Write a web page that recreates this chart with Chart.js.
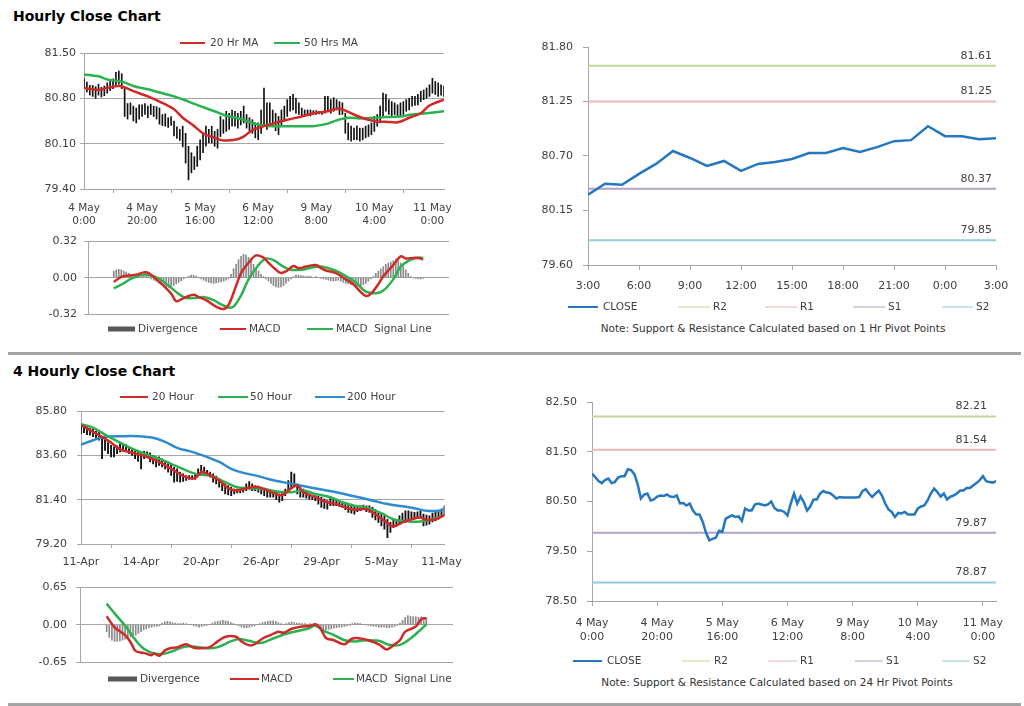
<!DOCTYPE html>
<html><head><meta charset="utf-8">
<script src="https://cdn.jsdelivr.net/npm/chart.js@4.4.0/dist/chart.umd.min.js"></script>
<style>
body{margin:0;background:#fff;width:1024px;height:706px;position:relative;overflow:hidden;font-family:"DejaVu Sans";}
canvas{position:absolute;}
.title{position:absolute;left:13px;font:bold 14px/16px "DejaVu Sans";color:#000;white-space:nowrap;}
.sep{position:absolute;left:8px;width:1013px;height:3px;background:#a3a3a3;}
.note{position:absolute;font:10.5px/14px "DejaVu Sans";color:#333;white-space:nowrap;transform:translateX(-50%);}
</style></head><body>
<div class="title" style="top:8px">Hourly Close Chart</div>
<div class="sep" style="top:352px"></div>
<div class="title" style="top:363px">4 Hourly Close Chart</div>
<div class="sep" style="top:703px"></div>
<div class="note" style="left:773px;top:321px">Note: Support &amp; Resistance Calculated based on 1 Hr Pivot Points</div>
<div class="note" style="left:777px;top:675px">Note: Support &amp; Resistance Calculated based on 24 Hr Pivot Points</div>
<canvas id="cA" width="470" height="200" style="left:0;top:30px"></canvas>
<canvas id="cB" width="470" height="122" style="left:0;top:228px"></canvas>
<canvas id="cC" width="504" height="320" style="left:520px;top:30px"></canvas>
<canvas id="cD" width="470" height="190" style="left:0;top:380px"></canvas>
<canvas id="cE" width="470" height="130" style="left:0;top:572px"></canvas>
<canvas id="cF" width="504" height="320" style="left:520px;top:380px"></canvas>
<script>
// ===== DATA =====
// Hourly (4 May 0:00 .. ~11 May 4:00), 125 hourly bars
const hourlyTickPos = [0,20,40,60,80,100,120];
const hourlyTickLabels = [['4 May','0:00'],['4 May','20:00'],['5 May','16:00'],['6 May','12:00'],['9 May','8:00'],['10 May','4:00'],['11 May','0:00']];
const hourlyHigh = [
81.10,81.05,81.00,81.00,80.98,81.02,80.97,80.99,81.04,81.08,
81.10,81.20,81.22,81.18,80.96,80.72,80.73,80.68,80.65,80.70,
80.70,80.72,80.68,80.71,80.68,80.67,80.65,80.55,80.56,80.50,
80.52,80.45,80.36,80.32,80.37,80.26,80.06,79.96,79.90,80.06,
80.16,80.26,80.37,80.32,80.37,80.29,80.32,80.52,80.47,80.60,
80.57,80.62,80.60,80.57,80.60,80.68,80.55,80.50,80.47,80.42,
80.42,80.62,80.96,80.73,80.73,80.62,80.57,80.52,80.62,80.68,
80.78,80.83,80.86,80.80,80.73,80.65,80.62,80.62,80.62,80.61,
80.61,80.60,80.60,80.83,80.83,80.78,80.81,80.78,80.75,80.73,
80.57,80.42,80.37,80.34,80.37,80.34,80.34,80.37,80.39,80.42,
80.52,80.55,80.68,80.88,80.86,80.78,80.75,80.73,80.70,80.73,
80.75,80.78,80.80,80.83,80.83,80.86,80.91,80.93,80.96,81.01,
81.11,81.06,81.04,81.01,80.99];
const hourlyLow = [
80.95,80.90,80.85,80.83,80.80,80.85,80.82,80.84,80.88,80.92,
80.95,81.00,81.02,80.95,80.52,80.48,80.55,80.45,80.42,80.48,
80.52,80.55,80.50,80.55,80.52,80.48,80.40,80.38,80.37,80.35,
80.38,80.22,80.18,80.15,80.05,79.80,79.54,79.65,79.70,79.75,
79.85,79.96,80.06,80.11,80.11,80.06,80.03,80.21,80.26,80.29,
80.32,80.37,80.37,80.34,80.39,80.42,80.34,80.29,80.26,80.19,
80.16,80.26,80.37,80.32,80.42,80.37,80.30,80.24,80.37,80.47,
80.52,80.60,80.62,80.57,80.55,80.52,80.52,80.53,80.53,80.55,
80.55,80.56,80.55,80.57,80.62,80.57,80.60,80.62,80.55,80.55,
80.26,80.16,80.14,80.16,80.16,80.14,80.16,80.19,80.21,80.24,
80.29,80.37,80.42,80.50,80.60,80.55,80.52,80.55,80.52,80.52,
80.55,80.60,80.62,80.68,80.69,80.70,80.75,80.78,80.80,80.83,
80.88,80.86,80.83,80.85,80.83];
const hourlyClose = [
81.06,80.99,80.91,80.87,80.93,80.96,80.87,80.89,80.98,81.01,
81.01,81.15,81.13,81.05,80.85,80.56,80.64,80.66,80.52,80.54,
80.60,80.62,80.61,80.64,80.60,80.59,80.62,80.46,80.47,80.42,
80.46,80.32,80.24,80.24,80.09,79.87,79.72,79.75,79.77,79.91,
79.89,80.15,80.19,80.22,80.19,80.20,80.11,80.36,80.32,80.32,
80.44,80.46,80.44,80.42,80.44,80.50,80.37,80.32,80.32,80.29,
80.22,80.46,80.66,80.46,80.60,80.49,80.32,80.40,80.54,80.54,
80.66,80.71,80.68,80.67,80.62,80.56,80.59,80.58,80.58,80.58,
80.58,80.58,80.59,80.71,80.75,80.66,80.59,80.66,80.72,80.62,
80.46,80.34,80.29,80.19,80.27,80.26,80.29,80.24,80.24,80.24,
80.36,80.40,80.42,80.52,80.66,80.76,80.69,80.60,80.66,80.54,
80.60,80.62,80.66,80.72,80.72,80.77,80.77,80.82,80.87,80.93,
81.01,80.91,80.89,80.88,80.91];
const ma20HrX = [0,5,8,12,14,17,22,26,31,34,38,41,45,48,52,55,58,62,65,70,75,79,84,87,89,93,97,101,104,108,112,116,119,124];
const ma20HrY = [80.96,80.93,80.96,80.99,80.97,80.91,80.83,80.75,80.63,80.50,80.37,80.26,80.19,80.15,80.16,80.21,80.31,80.37,80.41,80.47,80.52,80.57,80.60,80.64,80.63,80.55,80.48,80.44,80.44,80.43,80.50,80.57,80.69,80.78];
const ma50HrX = [0,5,8,13,17,22,26,31,36,40,45,49,54,58,62,65,70,75,79,84,87,91,95,100,104,109,113,118,124];
const ma50HrY = [81.17,81.14,81.09,81.06,80.99,80.94,80.89,80.83,80.75,80.68,80.60,80.53,80.48,80.42,80.38,80.37,80.37,80.37,80.37,80.41,80.46,80.50,80.49,80.50,80.51,80.52,80.55,80.57,80.60];
const macdHrX = [0,3,6,9,12,14,17,20,23,25,27,29,32,34,37,41,44,46,49,51,54,57,60,62,65,67,69,72,74,77,81,83,85,89,92,96,99,101,103,106,108,112,115,117,121,124];
const macdHrY = [-0.037,0.008,0.02,0.028,0.048,0.042,-0.014,-0.071,-0.14,-0.207,-0.19,-0.17,-0.15,-0.17,-0.198,-0.255,-0.275,-0.24,-0.071,0.042,0.133,0.198,0.178,0.133,0.071,0.042,0.057,0.105,0.085,0.099,0.113,0.085,0.065,0.042,0.0,-0.057,-0.127,-0.161,-0.142,-0.057,0.014,0.113,0.19,0.17,0.178,0.164];
const signalHrX = [0,4,7,12,16,19,22,26,29,33,36,40,43,46,48,51,54,58,61,64,68,71,75,80,83,88,92,97,101,105,108,112,115,119,122,124];
const signalHrY = [-0.093,-0.048,-0.008,0.028,0.014,-0.02,-0.071,-0.142,-0.178,-0.178,-0.17,-0.198,-0.235,-0.263,-0.255,-0.156,-0.014,0.113,0.17,0.156,0.099,0.071,0.071,0.093,0.099,0.071,0.028,-0.042,-0.122,-0.136,-0.113,-0.014,0.099,0.161,0.178,0.175];
const divergenceHr = [
0.06,0.07,0.075,0.07,0.06,0.05,0.04,0.03,0.02,0.015,
0.01,0.01,0.02,0.02,0.01,
-0.01,-0.02,-0.03,-0.045,-0.06,-0.07,-0.08,-0.085,-0.08,-0.07,-0.055,-0.04,-0.025,
-0.01,0.005,0.015,0.025,0.025,0.015,
0.0,-0.01,-0.02,-0.03,-0.04,-0.045,-0.05,-0.045,-0.04,-0.035,-0.03,-0.02,-0.01,
0.03,0.08,0.12,0.16,0.19,0.21,0.2,0.18,0.15,0.12,0.09,0.06,0.03,0.01,
-0.01,-0.03,-0.05,-0.07,-0.08,-0.085,-0.08,-0.07,-0.05,-0.03,-0.01,0.01,0.025,
0.025,0.02,0.015,0.01,0.015,0.01,0.005,
0.01,0.005,-0.005,-0.01,-0.015,-0.02,-0.025,-0.03,-0.025,
-0.02,-0.03,-0.04,-0.05,-0.055,-0.06,-0.065,-0.07,-0.075,-0.07,-0.06,-0.05,
-0.03,-0.01,0.01,
0.04,0.06,0.08,0.1,0.12,0.13,0.14,0.15,0.16,0.15,0.13,0.1,0.07,0.04,
0.01,0.0,-0.005,-0.01,-0.01,-0.005];

// Last 24 hours (3:00 .. 3:00)
const dayTickPos = [0,3,6,9,12,15,18,21,24];
const dayTickLabels = ['3:00','6:00','9:00','12:00','15:00','18:00','21:00','0:00','3:00'];
const dayClose = [80.31,80.42,80.41,80.52,80.62,80.75,80.68,80.60,80.65,80.55,80.62,80.64,80.67,80.73,80.73,80.78,80.74,80.79,80.85,80.86,81.00,80.90,80.90,80.87,80.88];

// Pivot levels
const pivotNames = ['R2','R1','S1','S2'];
const pivot1Hr = [81.61,81.25,80.37,79.85];
const pivot24Hr = [82.21,81.54,79.87,78.87];

// 4-hourly (11-Apr .. 11-May), 122 bars
const fourHrTickPos = [0,20,40,60,80,100,120];
const fourHrTickLabels = ['11-Apr','14-Apr','20-Apr','26-Apr','29-Apr','5-May','11-May'];
const fourHrHigh = [
85.18,85.10,85.02,84.93,84.90,84.80,84.77,84.43,84.35,84.23,
84.10,84.02,84.07,84.18,84.13,84.13,84.02,83.93,83.90,83.85,
83.77,83.80,83.77,83.73,83.60,83.52,83.52,83.43,83.35,83.27,
83.18,83.02,82.93,82.77,82.68,82.60,82.60,82.60,82.63,82.93,
83.10,83.02,82.85,82.77,82.68,82.57,82.43,82.30,82.18,82.10,
82.02,81.93,81.93,81.97,81.97,82.18,82.30,82.18,82.10,82.07,
82.02,81.97,81.93,81.90,81.85,81.77,81.68,81.77,81.93,82.35,
82.77,82.68,82.18,82.02,81.93,81.80,81.68,81.63,81.60,81.57,
81.52,81.43,81.35,81.52,81.47,81.43,81.35,81.27,81.23,81.18,
81.13,81.10,81.10,81.10,81.13,81.10,81.10,81.02,80.90,80.77,
80.68,80.60,80.43,80.27,80.40,80.43,80.60,80.73,80.85,80.85,
80.80,80.77,80.80,80.85,80.68,80.63,80.60,80.73,80.77,80.85,
80.93,81.10];
const fourHrLow = [
84.68,84.73,84.63,84.60,84.52,84.47,84.35,83.43,83.85,83.68,
83.52,83.52,83.68,83.77,83.80,83.85,83.68,83.60,83.43,83.30,
82.93,83.43,83.52,83.27,83.18,83.02,83.10,83.02,82.93,82.77,
82.60,82.27,82.30,82.27,82.30,82.35,82.40,82.40,82.40,82.60,
82.68,82.63,82.60,82.52,82.27,82.18,82.02,81.85,81.68,81.63,
81.60,81.68,81.73,81.73,81.77,81.85,81.93,81.85,81.85,81.77,
81.68,81.60,81.52,81.52,81.52,81.40,81.27,81.35,81.60,81.77,
82.02,82.10,81.68,81.52,81.52,81.47,81.43,81.40,81.35,81.18,
81.02,80.97,80.93,81.10,81.10,81.10,81.07,81.02,80.90,80.77,
80.73,80.68,80.80,80.85,80.90,80.80,80.77,80.52,80.40,80.27,
80.10,79.93,79.52,79.77,80.02,80.10,80.18,80.27,80.27,80.35,
80.40,80.43,80.47,80.52,80.10,80.13,80.18,80.30,80.35,80.43,
80.52,80.60];
const ma20FourX = [0,3,6,10,13,17,22,26,30,35,38,40,42,46,49,52,55,59,62,65,67,70,72,74,78,82,85,88,91,95,98,101,104,107,110,113,115,118,121];
const ma20FourY = [85.10,84.85,84.60,84.23,83.90,83.73,83.52,83.27,82.93,82.52,82.47,82.77,82.68,82.35,81.97,81.85,81.97,82.02,81.85,81.68,81.63,81.97,82.10,81.77,81.52,81.27,81.18,81.02,80.90,80.93,80.68,80.35,80.07,80.27,80.43,80.52,80.40,80.43,80.63];
const ma50FourX = [0,4,8,13,17,22,26,30,35,39,43,48,52,56,61,65,70,74,78,83,87,91,96,100,104,109,113,117,121];
const ma50FourY = [85.15,84.97,84.63,84.23,83.93,83.63,83.43,83.18,82.85,82.65,82.60,82.27,82.02,81.97,81.93,81.80,81.77,81.85,81.68,81.52,81.27,81.10,80.97,80.73,80.43,80.32,80.32,80.43,80.63];
const ma200FourX = [0,4,8,13,19,24,28,32,37,41,46,50,54,59,63,67,72,76,80,85,89,94,98,102,107,111,115,119,121];
const ma200FourY = [84.13,84.35,84.52,84.55,84.55,84.47,84.27,83.97,83.77,83.57,83.27,82.93,82.73,82.57,82.40,82.27,82.13,82.02,81.90,81.77,81.63,81.47,81.32,81.18,81.07,80.97,80.85,80.85,80.93];
const macdFourX = [0,3,7,9,11,14,17,18,20,22,24,27,30,33,36,39,42,45,49,51,54,56,59,62,65,67,70,74,77,79,81,83,86,90,93,96,99,103,106,109,111,113,117,119,121];
const macdFourY = [0.15,-0.044,-0.18,-0.30,-0.46,-0.49,-0.53,-0.50,-0.54,-0.45,-0.41,-0.39,-0.34,-0.40,-0.41,-0.39,-0.29,-0.21,-0.21,-0.29,-0.36,-0.34,-0.24,-0.18,-0.12,-0.14,-0.07,-0.03,-0.02,0.01,-0.07,-0.23,-0.27,-0.34,-0.24,-0.24,-0.27,-0.34,-0.43,-0.34,-0.27,-0.12,-0.03,0.094,0.12];
const signalFourX = [0,3,7,10,13,16,19,22,25,28,31,35,39,42,47,50,54,58,63,67,71,76,79,82,86,90,94,98,103,107,111,115,118,121];
const signalFourY = [0.37,0.20,-0.017,-0.21,-0.376,-0.47,-0.51,-0.50,-0.46,-0.40,-0.376,-0.39,-0.41,-0.39,-0.29,-0.25,-0.28,-0.32,-0.24,-0.17,-0.12,-0.07,-0.017,-0.10,-0.18,-0.27,-0.29,-0.27,-0.28,-0.35,-0.35,-0.24,-0.12,0.01];
const divergenceFour = [
-0.12,-0.22,-0.27,-0.29,-0.29,-0.28,-0.27,-0.25,-0.23,-0.21,-0.2,-0.18,-0.15,-0.12,-0.09,-0.07,-0.05,-0.04,-0.03,-0.03,-0.02,
0.03,0.05,0.06,0.05,0.04,0.03,
0.02,0.02,0.03,0.02,0.01,0.0,
-0.02,-0.03,-0.04,-0.03,-0.02,-0.01,
0.01,0.03,0.05,0.06,0.07,0.08,0.07,0.06,0.04,0.02,0.0,-0.02,
-0.04,-0.05,-0.05,-0.04,-0.03,-0.02,0.0,
0.02,0.04,0.05,0.06,0.07,0.07,0.06,0.04,0.02,0.01,
0.02,0.04,0.05,0.04,0.03,0.03,0.02,0.02,0.01,
0.02,0.01,0.0,
-0.04,-0.07,-0.09,-0.09,-0.08,-0.07,-0.06,-0.05,-0.04,-0.04,-0.03,-0.02,-0.01,
0.02,0.03,0.03,0.02,0.01,0.0,
-0.01,-0.02,-0.03,-0.03,-0.04,-0.04,-0.04,-0.05,-0.05,-0.04,-0.03,-0.01,
0.03,0.08,0.13,0.16,0.15,0.14,0.14,0.13,0.14,0.13,0.12];

// ===== STYLE =====
const FONT = 'DejaVu Sans';
const GRID = '#a6a6a6';
const TXT = '#404040';
const RED = '#cf2a27', GREEN = '#2bb14f', BLUE200 = '#2e8bd0', CLOSEC = '#2577c0';
const PIVOTC = ['#c3d69b','#e6b9b8','#b3a2c7','#92cddc'];

// ===== PLUGINS =====
const posLegend = {
  id: 'posLegend',
  afterDraw(chart, args, o) {
    if (!o || !o.items) return;
    const ctx = chart.ctx; ctx.save();
    ctx.font = (o.size || 10.5) + 'px "' + FONT + '"';
    ctx.textBaseline = 'middle'; ctx.textAlign = 'left';
    const y = o.y - o.oy;
    o.items.forEach(it => {
      const ds = chart.data.datasets[it.ds];
      const x0 = it.x - o.ox;
      if (it.bar) { ctx.fillStyle = it.color; ctx.fillRect(x0, y - it.bar / 2, it.w, it.bar); }
      else { ctx.strokeStyle = ds.borderColor; ctx.lineWidth = it.lw || 2; ctx.beginPath(); ctx.moveTo(x0, y); ctx.lineTo(x0 + it.w, y); ctx.stroke(); }
      ctx.fillStyle = TXT;
      ctx.fillText(ds.label, it.tx - o.ox, y);
    });
    ctx.restore();
  }
};
const pivotLabels = {
  id: 'pivotLabels',
  afterDatasetsDraw(chart, args, o) {
    if (!o || !o.on) return;
    const ctx = chart.ctx, ys = chart.scales.y, ca = chart.chartArea;
    ctx.save(); ctx.font = '11px "' + FONT + '"'; ctx.fillStyle = TXT; ctx.textAlign = 'right'; ctx.textBaseline = 'middle';
    chart.data.datasets.forEach(ds => {
      if (ds.pivot) { const v = ds.data[0].y; ctx.fillText(v.toFixed(2), ca.right - o.dx, ys.getPixelForValue(v) - o.dy); }
    });
    ctx.restore();
  }
};
Chart.register(posLegend, pivotLabels);

// ===== HELPERS =====
const pts = (xs, ys) => xs.map((x, i) => ({x, y: ys[i]}));
const idx = arr => arr.map((v, i) => ({x: i, y: v}));
function lineDs(label, data, color, width, tension) {
  return {type: 'line', label, data, borderColor: color, backgroundColor: color, borderWidth: width, pointRadius: 0, tension: tension || 0, fill: false};
}
function barDs(label, data, color, thick) {
  return {type: 'bar', label, data, backgroundColor: color, borderWidth: 0, barThickness: thick, grouped: false};
}
function yAxis(o) {
  return {
    type: 'linear', position: 'left', min: o.min, max: o.max,
    afterFit(s) { s.width = o.w; },
    afterBuildTicks(s) { s.ticks = o.ticks.map(v => ({value: v})); },
    ticks: {padding: o.pad, color: TXT, font: {family: FONT, size: 11}, callback: v => Number(v).toFixed(2)},
    grid: {drawOnChartArea: o.grid, drawTicks: true, tickLength: o.tl, color: GRID, lineWidth: 1},
    border: {display: true, color: GRID, width: 1}
  };
}
function xAxis(o) {
  if (!o.show) return {type: 'linear', display: false, min: o.min, max: o.max};
  return {
    type: 'linear', position: 'bottom', min: o.min, max: o.max, offset: false,
    afterFit(s) { s.height = o.h; },
    afterBuildTicks(s) { s.ticks = o.ticks.map(v => ({value: v})); },
    ticks: {autoSkip: false, maxRotation: 0, minRotation: 0, padding: o.pad, color: TXT,
      font: {family: FONT, size: o.fs || 11, lineHeight: o.lh || 1.2}, callback: (v, i) => o.labels[i]},
    grid: {drawOnChartArea: false, drawTicks: true, tickLength: o.tl, color: GRID},
    border: {display: true, color: GRID}
  };
}
function mk(id, datasets, scales, padding, plugins) {
  return new Chart(document.getElementById(id), {
    type: 'line',
    data: {datasets},
    options: {
      responsive: false, animation: false, events: [],
      layout: {padding},
      scales,
      plugins: Object.assign({legend: {display: false}, tooltip: {enabled: false}}, plugins)
    }
  });
}
function pivotSets(vals, xmax) {
  return vals.map((v, i) => Object.assign(lineDs(pivotNames[i], [{x: 0, y: v}, {x: xmax, y: v}], PIVOTC[i], 2), {pivot: true}));
}

// ===== A: hourly price =====
mk('cA', [
  lineDs('20 Hr MA', pts(ma20HrX, ma20HrY), RED, 2.5, 0.35),
  lineDs('50 Hrs MA', pts(ma50HrX, ma50HrY), GREEN, 2.5, 0.35),
  barDs('Price', hourlyHigh.map((h, i) => ({x: i, y: [hourlyLow[i], h]})), '#111', 1)
], {
  x: xAxis({show: true, min: 0, max: 124, ticks: hourlyTickPos, labels: hourlyTickLabels, h: 40, tl: 4, pad: 9, fs: 10.5, lh: 1.25}),
  y: yAxis({min: 79.40, max: 81.50, ticks: [79.40, 80.10, 80.80, 81.50], w: 50, tl: 4, pad: 4, grid: true})
}, {left: 34, top: 23, right: 26, bottom: 1},
{posLegend: {ox: 0, oy: 30, y: 43, items: [{ds: 0, x: 180, w: 25, tx: 210}, {ds: 1, x: 274, w: 26, tx: 304}]}});

// ===== B: hourly MACD =====
mk('cB', [
  lineDs('MACD', pts(macdHrX, macdHrY), RED, 2.5, 0.35),
  lineDs('MACD  Signal Line', pts(signalHrX, signalHrY), GREEN, 2.5, 0.35),
  barDs('Divergence', idx(divergenceHr), '#8a8a8a', 1)
], {
  x: xAxis({show: false, min: 0, max: 124}),
  y: yAxis({min: -0.32, max: 0.32, ticks: [-0.32, 0, 0.32], w: 50, tl: 4, pad: 7, grid: true})
}, {left: 38, top: 11, right: 21, bottom: 36},
{posLegend: {ox: 0, oy: 228, y: 329, items: [{ds: 2, x: 108, w: 27, tx: 138, bar: 5, color: '#595959'}, {ds: 0, x: 220, w: 26, tx: 249}, {ds: 1, x: 307, w: 26, tx: 336}]}});

// ===== C: last 24 hours with 1 Hr pivots =====
mk('cC', [lineDs('CLOSE', idx(dayClose), CLOSEC, 2.5, 0)].concat(pivotSets(pivot1Hr, 24)), {
  x: xAxis({show: true, min: 0, max: 24, ticks: dayTickPos, labels: dayTickLabels, h: 30, tl: 5, pad: 10}),
  y: yAxis({min: 79.60, max: 81.80, ticks: [79.60, 80.15, 80.70, 81.25, 81.80], w: 50, tl: 5, pad: 10, grid: false})
}, {left: 18, top: 17, right: 28, bottom: 55},
{posLegend: {ox: 520, oy: 30, y: 307, items: [
  {ds: 0, x: 568, w: 30, tx: 603}, {ds: 1, x: 678, w: 32, tx: 713, lw: 1}, {ds: 2, x: 765, w: 32, tx: 800, lw: 1},
  {ds: 3, x: 853, w: 32, tx: 888, lw: 1}, {ds: 4, x: 942, w: 31, tx: 976, lw: 1}]},
 pivotLabels: {on: true, dx: 4, dy: 10}});

// ===== D: 4 hourly price =====
mk('cD', [
  lineDs('20 Hour', pts(ma20FourX, ma20FourY), RED, 2.5, 0.35),
  lineDs('50 Hour', pts(ma50FourX, ma50FourY), GREEN, 2.5, 0.35),
  lineDs('200 Hour', pts(ma200FourX, ma200FourY), BLUE200, 2.5, 0.35),
  barDs('Price', fourHrHigh.map((h, i) => ({x: i, y: [fourHrLow[i], h]})), '#111', 1.2)
], {
  x: xAxis({show: true, min: 0, max: 121, ticks: fourHrTickPos, labels: fourHrTickLabels, h: 24, tl: 4, pad: 8}),
  y: yAxis({min: 79.20, max: 85.80, ticks: [79.20, 81.40, 83.60, 85.80], w: 50, tl: 4, pad: 10, grid: true})
}, {left: 31, top: 31, right: 19, bottom: 2},
{posLegend: {ox: 0, oy: 380, y: 397, items: [{ds: 0, x: 120, w: 28, tx: 152}, {ds: 1, x: 218, w: 30, tx: 250}, {ds: 2, x: 315, w: 30, tx: 347}]}});

// ===== E: 4 hourly MACD =====
mk('cE', [
  lineDs('MACD', pts(macdFourX, macdFourY), RED, 2.5, 0.35),
  lineDs('MACD  Signal Line', pts(signalFourX, signalFourY), GREEN, 2.5, 0.35),
  barDs('Divergence', idx(divergenceFour), '#8a8a8a', 1)
], {
  x: xAxis({show: false, min: 0, max: 121}),
  y: yAxis({min: -0.65, max: 0.65, ticks: [-0.65, 0, 0.65], w: 50, tl: 4, pad: 9, grid: true})
}, {left: 30, top: 12, right: 17, bottom: 40},
{posLegend: {ox: 0, oy: 572, y: 679, items: [{ds: 2, x: 108, w: 29, tx: 140, bar: 5, color: '#595959'}, {ds: 0, x: 230, w: 29, tx: 261}, {ds: 1, x: 333, w: 21, tx: 356}]}});

// ===== F: hourly close with 24 Hr pivots =====
mk('cF', [lineDs('CLOSE', idx(hourlyClose), CLOSEC, 2.5, 0)].concat(pivotSets(pivot24Hr, 124)), {
  x: xAxis({show: true, min: 0, max: 124, ticks: hourlyTickPos, labels: hourlyTickLabels, h: 40, tl: 5, pad: 10, lh: 1.3}),
  y: yAxis({min: 78.50, max: 82.50, ticks: [78.50, 79.50, 80.50, 81.50, 82.50], w: 50, tl: 5, pad: 10, grid: false})
}, {left: 22, top: 22, right: 28, bottom: 59},
{posLegend: {ox: 520, oy: 380, y: 661, items: [
  {ds: 0, x: 573, w: 29, tx: 607}, {ds: 1, x: 682, w: 28, tx: 714, lw: 1}, {ds: 2, x: 768, w: 29, tx: 800, lw: 1},
  {ds: 3, x: 855, w: 28, tx: 886, lw: 1}, {ds: 4, x: 942, w: 28, tx: 973, lw: 1}]},
 pivotLabels: {on: true, dx: 9, dy: 10}});
</script>
</body></html>
